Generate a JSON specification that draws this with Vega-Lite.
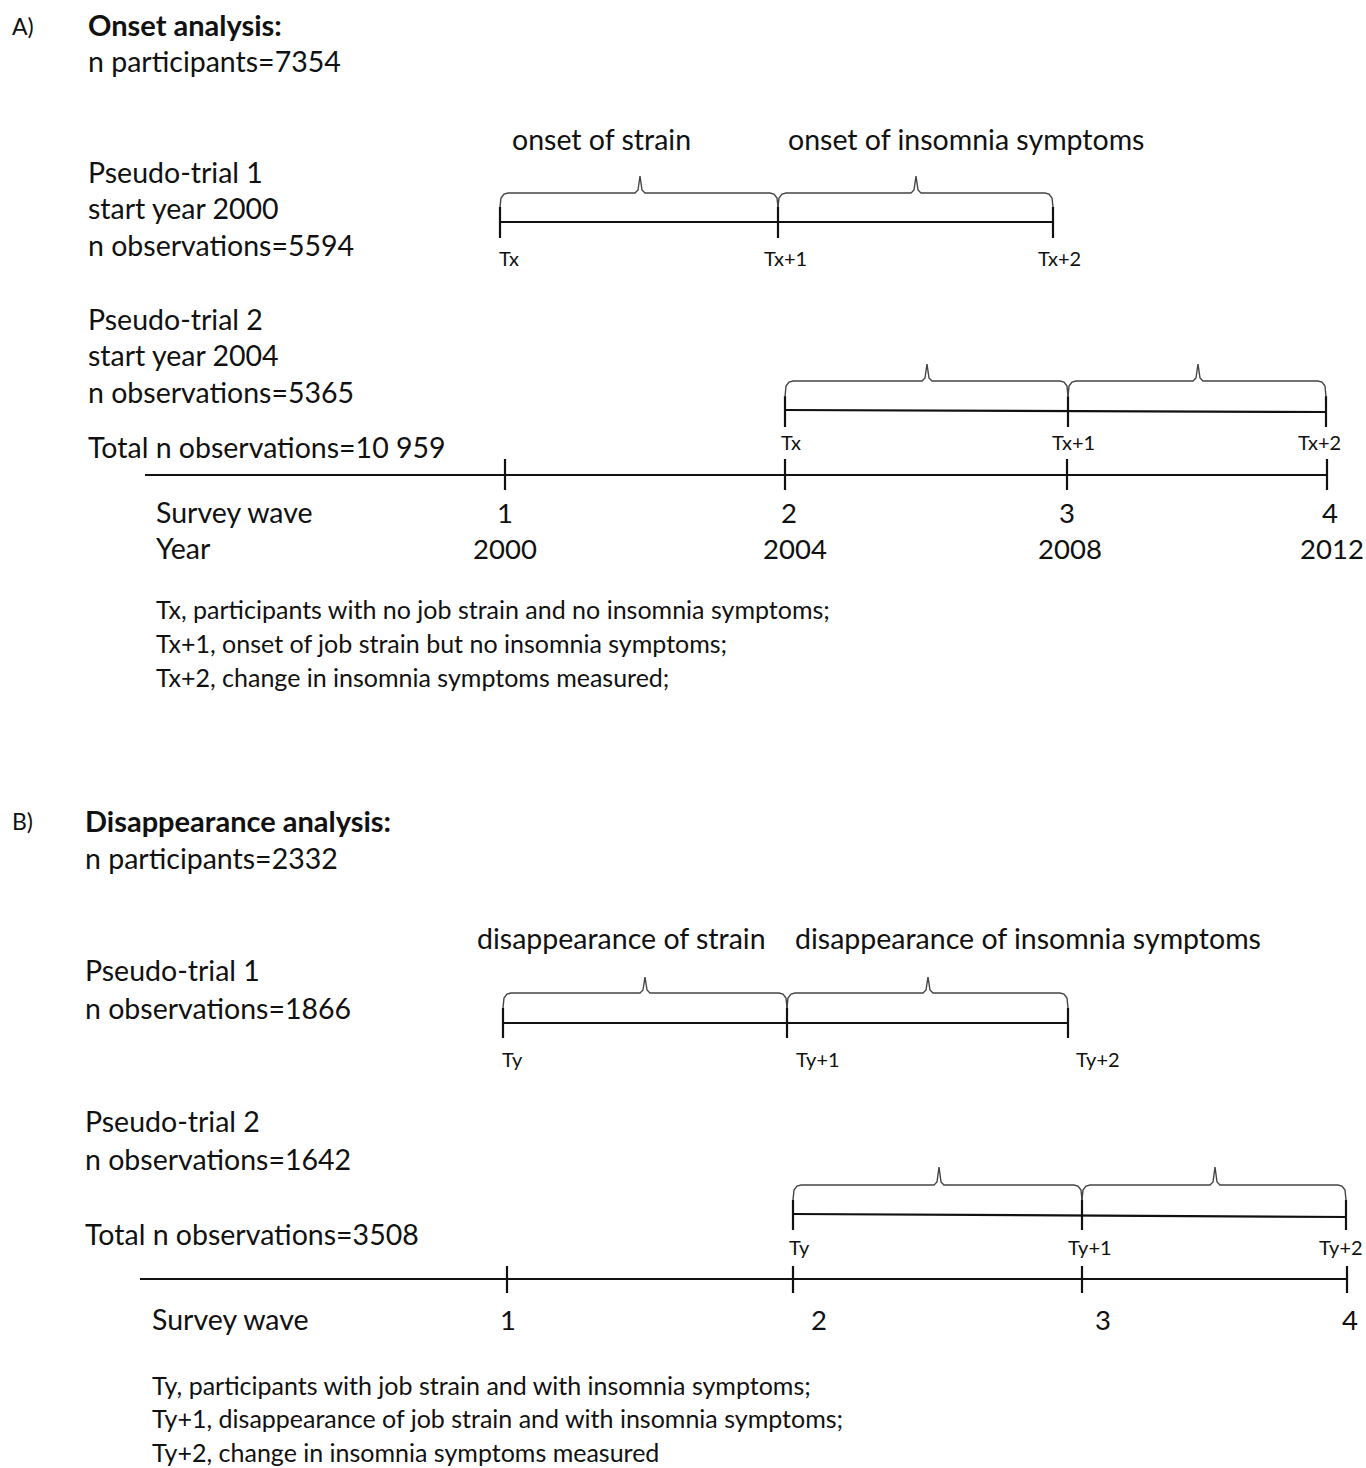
{
  "$schema": "https://vega.github.io/schema/vega-lite/v6.json",
  "width": 1366,
  "height": 1468,
  "autosize": {"type": "fit", "contains": "padding"},
  "padding": 0,
  "background": "white",
  "datasets": {
    "lines": [
      {"part": "A", "x": 500, "y": 222, "x2": 1053, "y2": 222},
      {"part": "A", "x": 500, "y": 207, "x2": 500, "y2": 238},
      {"part": "A", "x": 778, "y": 207, "x2": 778, "y2": 238},
      {"part": "A", "x": 1053, "y": 207, "x2": 1053, "y2": 238},
      {"part": "A", "x": 785, "y": 410, "x2": 1326, "y2": 412},
      {"part": "A", "x": 785, "y": 396, "x2": 785, "y2": 427},
      {"part": "A", "x": 1068, "y": 396, "x2": 1068, "y2": 427},
      {"part": "A", "x": 1326, "y": 396, "x2": 1326, "y2": 427},
      {"part": "A", "x": 145, "y": 475, "x2": 1327, "y2": 475},
      {"part": "A", "x": 505, "y": 459, "x2": 505, "y2": 490},
      {"part": "A", "x": 785, "y": 459, "x2": 785, "y2": 490},
      {"part": "A", "x": 1067, "y": 459, "x2": 1067, "y2": 490},
      {"part": "A", "x": 1327, "y": 459, "x2": 1327, "y2": 490},
      {"part": "B", "x": 503, "y": 1023, "x2": 1068, "y2": 1023},
      {"part": "B", "x": 503, "y": 1008, "x2": 503, "y2": 1038},
      {"part": "B", "x": 787, "y": 1008, "x2": 787, "y2": 1038},
      {"part": "B", "x": 1068, "y": 1008, "x2": 1068, "y2": 1038},
      {"part": "B", "x": 793, "y": 1214, "x2": 1346, "y2": 1217},
      {"part": "B", "x": 793, "y": 1200, "x2": 793, "y2": 1230},
      {"part": "B", "x": 1082, "y": 1200, "x2": 1082, "y2": 1230},
      {"part": "B", "x": 1346, "y": 1200, "x2": 1346, "y2": 1230},
      {"part": "B", "x": 140, "y": 1279, "x2": 1347, "y2": 1279},
      {"part": "B", "x": 507, "y": 1266, "x2": 507, "y2": 1293},
      {"part": "B", "x": 793, "y": 1266, "x2": 793, "y2": 1293},
      {"part": "B", "x": 1082, "y": 1266, "x2": 1082, "y2": 1293},
      {"part": "B", "x": 1347, "y": 1266, "x2": 1347, "y2": 1293}
    ],
    "braces": [
      {"b": "A1a", "i": 0, "x": 500, "y": 207}, {"b": "A1a", "i": 1, "x": 501, "y": 198}, {"b": "A1a", "i": 2, "x": 504, "y": 194}, {"b": "A1a", "i": 3, "x": 508, "y": 193}, {"b": "A1a", "i": 4, "x": 635, "y": 193}, {"b": "A1a", "i": 5, "x": 638, "y": 190}, {"b": "A1a", "i": 6, "x": 640, "y": 176}, {"b": "A1a", "i": 7, "x": 642, "y": 190}, {"b": "A1a", "i": 8, "x": 645, "y": 193}, {"b": "A1a", "i": 9, "x": 770, "y": 193}, {"b": "A1a", "i": 10, "x": 774, "y": 194}, {"b": "A1a", "i": 11, "x": 777, "y": 198}, {"b": "A1a", "i": 12, "x": 778, "y": 207},
      {"b": "A1b", "i": 0, "x": 778, "y": 207}, {"b": "A1b", "i": 1, "x": 779, "y": 198}, {"b": "A1b", "i": 2, "x": 782, "y": 194}, {"b": "A1b", "i": 3, "x": 786, "y": 193}, {"b": "A1b", "i": 4, "x": 911, "y": 193}, {"b": "A1b", "i": 5, "x": 914, "y": 190}, {"b": "A1b", "i": 6, "x": 916, "y": 176}, {"b": "A1b", "i": 7, "x": 918, "y": 190}, {"b": "A1b", "i": 8, "x": 921, "y": 193}, {"b": "A1b", "i": 9, "x": 1045, "y": 193}, {"b": "A1b", "i": 10, "x": 1049, "y": 194}, {"b": "A1b", "i": 11, "x": 1052, "y": 198}, {"b": "A1b", "i": 12, "x": 1053, "y": 207},
      {"b": "A2a", "i": 0, "x": 785, "y": 397}, {"b": "A2a", "i": 1, "x": 786, "y": 386}, {"b": "A2a", "i": 2, "x": 789, "y": 382}, {"b": "A2a", "i": 3, "x": 793, "y": 381}, {"b": "A2a", "i": 4, "x": 922, "y": 381}, {"b": "A2a", "i": 5, "x": 925, "y": 378}, {"b": "A2a", "i": 6, "x": 927, "y": 364}, {"b": "A2a", "i": 7, "x": 929, "y": 378}, {"b": "A2a", "i": 8, "x": 932, "y": 381}, {"b": "A2a", "i": 9, "x": 1060, "y": 381}, {"b": "A2a", "i": 10, "x": 1064, "y": 382}, {"b": "A2a", "i": 11, "x": 1067, "y": 386}, {"b": "A2a", "i": 12, "x": 1068, "y": 397},
      {"b": "A2b", "i": 0, "x": 1068, "y": 397}, {"b": "A2b", "i": 1, "x": 1069, "y": 386}, {"b": "A2b", "i": 2, "x": 1072, "y": 382}, {"b": "A2b", "i": 3, "x": 1076, "y": 381}, {"b": "A2b", "i": 4, "x": 1193, "y": 381}, {"b": "A2b", "i": 5, "x": 1196, "y": 378}, {"b": "A2b", "i": 6, "x": 1198, "y": 364}, {"b": "A2b", "i": 7, "x": 1200, "y": 378}, {"b": "A2b", "i": 8, "x": 1203, "y": 381}, {"b": "A2b", "i": 9, "x": 1318, "y": 381}, {"b": "A2b", "i": 10, "x": 1322, "y": 382}, {"b": "A2b", "i": 11, "x": 1325, "y": 386}, {"b": "A2b", "i": 12, "x": 1326, "y": 397},
      {"b": "B1a", "i": 0, "x": 503, "y": 1008}, {"b": "B1a", "i": 1, "x": 504, "y": 998}, {"b": "B1a", "i": 2, "x": 507, "y": 994}, {"b": "B1a", "i": 3, "x": 511, "y": 993}, {"b": "B1a", "i": 4, "x": 640, "y": 993}, {"b": "B1a", "i": 5, "x": 643, "y": 990}, {"b": "B1a", "i": 6, "x": 645, "y": 977}, {"b": "B1a", "i": 7, "x": 647, "y": 990}, {"b": "B1a", "i": 8, "x": 650, "y": 993}, {"b": "B1a", "i": 9, "x": 779, "y": 993}, {"b": "B1a", "i": 10, "x": 783, "y": 994}, {"b": "B1a", "i": 11, "x": 786, "y": 998}, {"b": "B1a", "i": 12, "x": 787, "y": 1008},
      {"b": "B1b", "i": 0, "x": 787, "y": 1008}, {"b": "B1b", "i": 1, "x": 788, "y": 998}, {"b": "B1b", "i": 2, "x": 791, "y": 994}, {"b": "B1b", "i": 3, "x": 795, "y": 993}, {"b": "B1b", "i": 4, "x": 923, "y": 993}, {"b": "B1b", "i": 5, "x": 926, "y": 990}, {"b": "B1b", "i": 6, "x": 928, "y": 977}, {"b": "B1b", "i": 7, "x": 930, "y": 990}, {"b": "B1b", "i": 8, "x": 933, "y": 993}, {"b": "B1b", "i": 9, "x": 1060, "y": 993}, {"b": "B1b", "i": 10, "x": 1064, "y": 994}, {"b": "B1b", "i": 11, "x": 1067, "y": 998}, {"b": "B1b", "i": 12, "x": 1068, "y": 1008},
      {"b": "B2a", "i": 0, "x": 793, "y": 1200}, {"b": "B2a", "i": 1, "x": 794, "y": 1190}, {"b": "B2a", "i": 2, "x": 797, "y": 1186}, {"b": "B2a", "i": 3, "x": 801, "y": 1185}, {"b": "B2a", "i": 4, "x": 934, "y": 1185}, {"b": "B2a", "i": 5, "x": 937, "y": 1182}, {"b": "B2a", "i": 6, "x": 939, "y": 1167}, {"b": "B2a", "i": 7, "x": 941, "y": 1182}, {"b": "B2a", "i": 8, "x": 944, "y": 1185}, {"b": "B2a", "i": 9, "x": 1074, "y": 1185}, {"b": "B2a", "i": 10, "x": 1078, "y": 1186}, {"b": "B2a", "i": 11, "x": 1081, "y": 1190}, {"b": "B2a", "i": 12, "x": 1082, "y": 1200},
      {"b": "B2b", "i": 0, "x": 1082, "y": 1200}, {"b": "B2b", "i": 1, "x": 1083, "y": 1190}, {"b": "B2b", "i": 2, "x": 1086, "y": 1186}, {"b": "B2b", "i": 3, "x": 1090, "y": 1185}, {"b": "B2b", "i": 4, "x": 1210, "y": 1185}, {"b": "B2b", "i": 5, "x": 1213, "y": 1182}, {"b": "B2b", "i": 6, "x": 1215, "y": 1167}, {"b": "B2b", "i": 7, "x": 1217, "y": 1182}, {"b": "B2b", "i": 8, "x": 1220, "y": 1185}, {"b": "B2b", "i": 9, "x": 1338, "y": 1185}, {"b": "B2b", "i": 10, "x": 1342, "y": 1186}, {"b": "B2b", "i": 11, "x": 1345, "y": 1190}, {"b": "B2b", "i": 12, "x": 1346, "y": 1200}
    ],
    "labels": [
      {"kind": "panel", "x": 12, "y": 35, "text": "A)"},
      {"kind": "panel", "x": 12, "y": 830, "text": "B)"},
      {"kind": "heading", "x": 88, "y": 36, "text": "Onset analysis:"},
      {"kind": "heading", "x": 85, "y": 832, "text": "Disappearance analysis:"},
      {"kind": "label", "x": 88, "y": 72, "text": "n participants=7354"},
      {"kind": "label", "x": 512, "y": 150, "text": "onset of strain"},
      {"kind": "label", "x": 788, "y": 150, "text": "onset of insomnia symptoms"},
      {"kind": "label", "x": 88, "y": 183, "text": "Pseudo-trial 1"},
      {"kind": "label", "x": 88, "y": 219, "text": "start year 2000"},
      {"kind": "label", "x": 88, "y": 256, "text": "n observations=5594"},
      {"kind": "label", "x": 88, "y": 330, "text": "Pseudo-trial 2"},
      {"kind": "label", "x": 88, "y": 366, "text": "start year 2004"},
      {"kind": "label", "x": 88, "y": 403, "text": "n observations=5365"},
      {"kind": "label", "x": 88, "y": 458, "text": "Total n observations=10 959"},
      {"kind": "label", "x": 156, "y": 523, "text": "Survey wave"},
      {"kind": "label", "x": 156, "y": 559, "text": "Year"},
      {"kind": "label", "x": 85, "y": 869, "text": "n participants=2332"},
      {"kind": "label", "x": 477, "y": 949, "text": "disappearance of strain"},
      {"kind": "label", "x": 795, "y": 949, "text": "disappearance of insomnia symptoms"},
      {"kind": "label", "x": 85, "y": 981, "text": "Pseudo-trial 1"},
      {"kind": "label", "x": 85, "y": 1019, "text": "n observations=1866"},
      {"kind": "label", "x": 85, "y": 1132, "text": "Pseudo-trial 2"},
      {"kind": "label", "x": 85, "y": 1170, "text": "n observations=1642"},
      {"kind": "label", "x": 85, "y": 1245, "text": "Total n observations=3508"},
      {"kind": "label", "x": 152, "y": 1330, "text": "Survey wave"},
      {"kind": "wave", "x": 505, "y": 523, "text": "1"},
      {"kind": "wave", "x": 789, "y": 523, "text": "2"},
      {"kind": "wave", "x": 1067, "y": 523, "text": "3"},
      {"kind": "wave", "x": 1330, "y": 523, "text": "4"},
      {"kind": "wave", "x": 505, "y": 559, "text": "2000"},
      {"kind": "wave", "x": 795, "y": 559, "text": "2004"},
      {"kind": "wave", "x": 1070, "y": 559, "text": "2008"},
      {"kind": "wave", "x": 1332, "y": 559, "text": "2012"},
      {"kind": "wave", "x": 508, "y": 1330, "text": "1"},
      {"kind": "wave", "x": 819, "y": 1330, "text": "2"},
      {"kind": "wave", "x": 1103, "y": 1330, "text": "3"},
      {"kind": "wave", "x": 1350, "y": 1330, "text": "4"},
      {"kind": "tick", "x": 499, "y": 266, "text": "Tx"},
      {"kind": "tick", "x": 764, "y": 266, "text": "Tx+1"},
      {"kind": "tick", "x": 1038, "y": 266, "text": "Tx+2"},
      {"kind": "tick", "x": 781, "y": 450, "text": "Tx"},
      {"kind": "tick", "x": 1052, "y": 450, "text": "Tx+1"},
      {"kind": "tick", "x": 1298, "y": 450, "text": "Tx+2"},
      {"kind": "tick", "x": 502, "y": 1067, "text": "Ty"},
      {"kind": "tick", "x": 796, "y": 1067, "text": "Ty+1"},
      {"kind": "tick", "x": 1076, "y": 1067, "text": "Ty+2"},
      {"kind": "tick", "x": 789, "y": 1255, "text": "Ty"},
      {"kind": "tick", "x": 1068, "y": 1255, "text": "Ty+1"},
      {"kind": "tick", "x": 1319, "y": 1255, "text": "Ty+2"},
      {"kind": "note", "x": 156, "y": 619, "text": "Tx, participants with no job strain and no insomnia symptoms;"},
      {"kind": "note", "x": 156, "y": 653, "text": "Tx+1, onset of job strain but no insomnia symptoms;"},
      {"kind": "note", "x": 156, "y": 687, "text": "Tx+2, change in insomnia symptoms measured;"},
      {"kind": "note", "x": 152, "y": 1395, "text": "Ty, participants with job strain and with insomnia symptoms;"},
      {"kind": "note", "x": 152, "y": 1428, "text": "Ty+1, disappearance of job strain and with insomnia symptoms;"},
      {"kind": "note", "x": 152, "y": 1462, "text": "Ty+2, change in insomnia symptoms measured"}
    ]
  },
  "encoding": {
    "x": {"field": "x", "type": "quantitative", "scale": {"domain": [0, 1366], "nice": false, "zero": false}, "axis": null},
    "y": {"field": "y", "type": "quantitative", "scale": {"domain": [0, 1468], "nice": false, "zero": false, "reverse": true}, "axis": null}
  },
  "layer": [
    {
      "data": {"name": "lines"},
      "mark": {"type": "rule", "color": "#111", "strokeWidth": 2.2},
      "encoding": {
        "x2": {"field": "x2"},
        "y2": {"field": "y2"}
      }
    },
    {
      "data": {"name": "braces"},
      "mark": {"type": "line", "color": "#444", "strokeWidth": 1.4},
      "encoding": {
        "detail": {"field": "b", "type": "nominal"},
        "order": {"field": "i", "type": "quantitative"}
      }
    },
    {
      "data": {"name": "labels"},
      "transform": [{"filter": "datum.kind == 'panel'"}],
      "mark": {"type": "text", "align": "left", "baseline": "alphabetic", "fontSize": 23, "color": "#111"},
      "encoding": {"text": {"field": "text"}}
    },
    {
      "data": {"name": "labels"},
      "transform": [{"filter": "datum.kind == 'heading'"}],
      "mark": {"type": "text", "align": "left", "baseline": "alphabetic", "fontSize": 29, "fontWeight": "bold", "color": "#111"},
      "encoding": {"text": {"field": "text"}}
    },
    {
      "data": {"name": "labels"},
      "transform": [{"filter": "datum.kind == 'label'"}],
      "mark": {"type": "text", "align": "left", "baseline": "alphabetic", "fontSize": 28.5, "color": "#111"},
      "encoding": {"text": {"field": "text"}}
    },
    {
      "data": {"name": "labels"},
      "transform": [{"filter": "datum.kind == 'wave'"}],
      "mark": {"type": "text", "align": "center", "baseline": "alphabetic", "fontSize": 27.5, "color": "#111"},
      "encoding": {"text": {"field": "text"}}
    },
    {
      "data": {"name": "labels"},
      "transform": [{"filter": "datum.kind == 'tick'"}],
      "mark": {"type": "text", "align": "left", "baseline": "alphabetic", "fontSize": 20, "color": "#111"},
      "encoding": {"text": {"field": "text"}}
    },
    {
      "data": {"name": "labels"},
      "transform": [{"filter": "datum.kind == 'note'"}],
      "mark": {"type": "text", "align": "left", "baseline": "alphabetic", "fontSize": 25, "color": "#111"},
      "encoding": {"text": {"field": "text"}}
    }
  ],
  "config": {
    "view": {"stroke": null},
    "text": {"font": "Lato"}
  }
}
